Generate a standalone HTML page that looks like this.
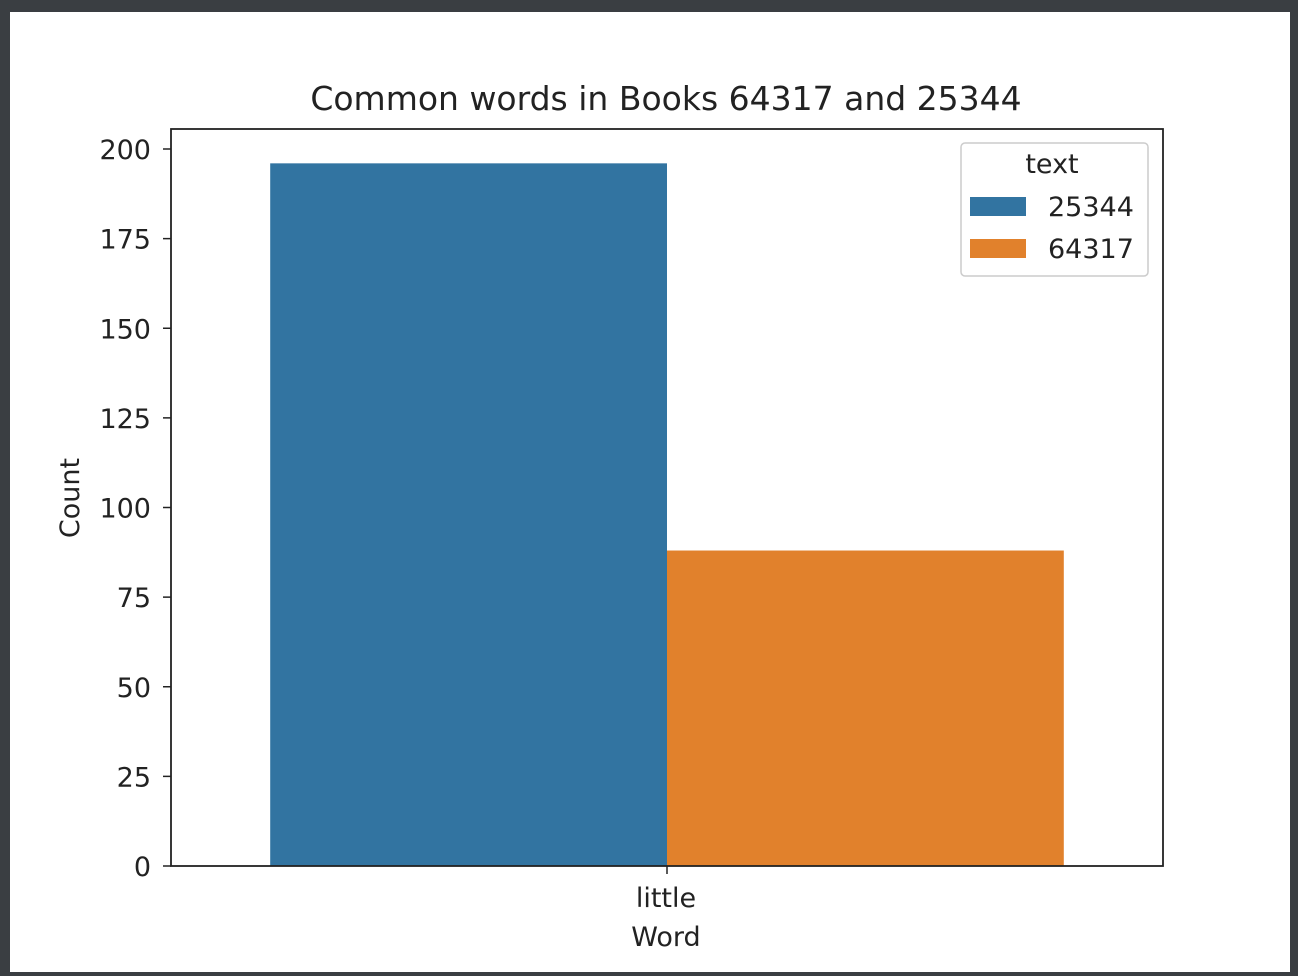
<!DOCTYPE html>
<html><head><meta charset="utf-8"><style>
html,body{margin:0;padding:0;background:#3a3e42;}
svg{display:block;font-family:"DejaVu Sans","Liberation Sans",sans-serif;}
</style></head><body>
<svg id="chart" width="1298" height="976">
<rect x="10" y="12" width="1280" height="960" fill="#fff"/>
<g id="plot"></g>
</svg>
<script>
const categories = ["little"];
const seriesNames = ["25344", "64317"];
const seriesValues = [[196], [88]];
const yTicks = [0, 25, 50, 75, 100, 125, 150, 175, 200];
const colors = ["#3274a1", "#e1812c"];

const NS = "http://www.w3.org/2000/svg";
const g = document.getElementById("plot");
const L = 171, R = 1163, T = 129, B = 866;
const y = v => B - v * (717 / 200);
const band = (R - L) / categories.length;
const xc = i => L + band * (i + 0.5);
function mk(tag, attrs, text) {
  const e = document.createElementNS(NS, tag);
  for (const k in attrs) e.setAttribute(k, attrs[k]);
  if (text !== undefined) e.textContent = text;
  g.appendChild(e);
  return e;
}
const bw = band * 0.8 / seriesNames.length;
seriesNames.forEach((s, si) => {
  categories.forEach((c, ci) => {
    const x0 = xc(ci) - band * 0.4 + si * bw;
    const b = mk("rect", {x: x0, y: y(seriesValues[si][ci]), width: bw, height: B - y(seriesValues[si][ci]), fill: colors[si]});
    
    
  });
});
yTicks.forEach(t => {
  const l = mk("line", {x1: L - 8, x2: L, y1: y(t), y2: y(t), stroke: "#222", "stroke-width": 1.5});
  
  
  const tx = mk("text", {x: L - 20, y: y(t) + 10, "text-anchor": "end", "font-size": 27, fill: "#222"}, String(t));
  
  
});
categories.forEach((c, i) => {
  const l = mk("line", {x1: xc(i), x2: xc(i), y1: B, y2: B + 8, stroke: "#222", "stroke-width": 1.5});
  
  
  const tx = mk("text", {x: xc(i) - 1, y: B + 41, "text-anchor": "middle", "font-size": 27, fill: "#222"}, c);
  
  
});
const fr = mk("rect", {x: L, y: T, width: R - L, height: B - T, fill: "none", stroke: "#222", "stroke-width": 1.8});


const ti = mk("text", {x: 666, y: 110, "text-anchor": "middle", "font-size": 33, fill: "#222"}, "Common words in Books 64317 and 25344");


const xl = mk("text", {x: 666, y: 946, "text-anchor": "middle", "font-size": 27, fill: "#222"}, "Word");


const yl = mk("text", {x: 0, y: 0, "text-anchor": "middle", "font-size": 27, fill: "#222", transform: "translate(79,498) rotate(-90)"}, "Count");


const lg = mk("rect", {x: 961, y: 143, width: 187, height: 133, rx: 4, fill: "#fff", "fill-opacity": 0.8, stroke: "#ccc", "stroke-width": 1.5});


const lt = mk("text", {x: 1052, y: 173, "text-anchor": "middle", "font-size": 27, fill: "#222"}, "text");


seriesNames.forEach((s, i) => {
  const py = 197 + i * 42;
  const p = mk("rect", {x: 970, y: py, width: 56, height: 19, fill: colors[i]});
  
  
  const t = mk("text", {x: 1048, y: py + 19, "font-size": 27, fill: "#222"}, s);
  
  
});
</script>
</body></html>
